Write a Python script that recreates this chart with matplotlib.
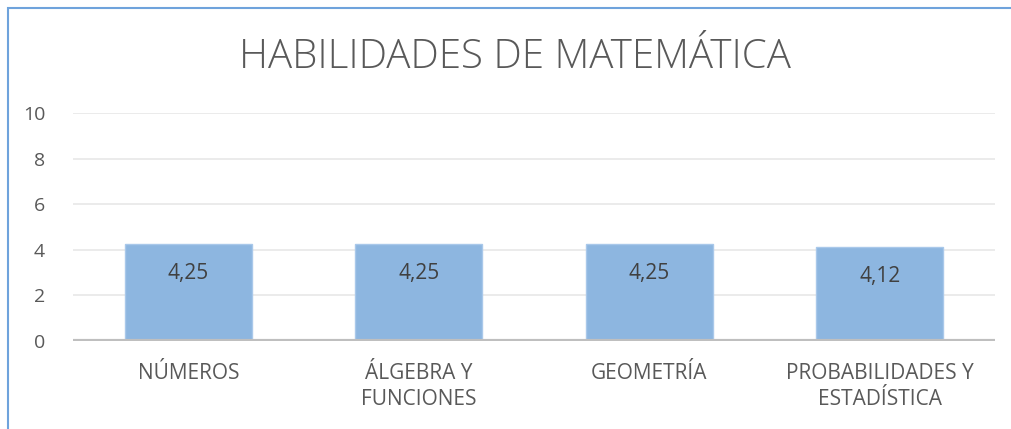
import numpy as np
import matplotlib.pyplot as plt
from matplotlib.patches import Rectangle

categorias = ['NÚMEROS', 'ÁLGEBRA Y\nFUNCIONES', 'GEOMETRÍA', 'PROBABILIDADES Y\nESTADÍSTICA']
valores = [4.25, 4.25, 4.25, 4.12]
etiquetas = ['4,25', '4,25', '4,25', '4,12']
yticks = [0, 2, 4, 6, 8, 10]

plt.rcParams['font.family'] = ['Open Sans', 'DejaVu Sans']
gris = '#595959'

fig = plt.figure(figsize=(10.11, 4.29), dpi=100)
ax = fig.add_axes([73/1011, 1-341/429, (995-73)/1011, (341-113)/429])

x = np.arange(len(categorias))
barras = ax.bar(x, valores, width=0.55, color='#8DB6E0', edgecolor='#A9C8EA', linewidth=1, zorder=2)

for b, t in zip(barras, etiquetas):
    ax.annotate(t, (b.get_x() + b.get_width()/2, b.get_height()), xytext=(0, -21),
                textcoords='offset points', ha='center', va='center', fontsize=15, color='#404040')

ax.set_xlim(-0.5, len(categorias) - 0.5)
ax.set_ylim(0, 10)
ax.set_yticks(yticks)
ax.set_yticklabels([str(v) for v in yticks], fontsize=14, color=gris)
ax.set_xticks(x)
ax.set_xticklabels(categorias, fontsize=15, color=gris, linespacing=1.3)
ax.tick_params(axis='both', length=0)
ax.tick_params(axis='y', pad=20)
ax.tick_params(axis='x', pad=16)
ax.grid(axis='y', color='#E8E8E8', linewidth=1.2, zorder=0)
ax.axhline(0, color='#BFBFBF', linewidth=3, zorder=3)
for s in ax.spines.values():
    s.set_visible(False)

fig.text(0.509, 1-58/429, 'HABILIDADES DE MATEMÁTICA', ha='center', va='center',
         fontsize=29, color=gris, fontweight='light')

fig.add_artist(Rectangle((8/1011, -0.1), 1.2, 1.1 - 8/429, transform=fig.transFigure,
                         fill=False, edgecolor='#6FA3DC', linewidth=1.5))

fig.savefig('out.png', dpi=100)
